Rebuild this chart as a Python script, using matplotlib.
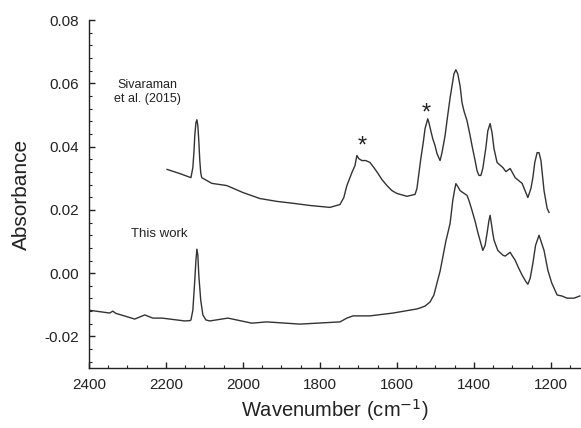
import matplotlib
matplotlib.use("Agg")
import matplotlib.pyplot as plt
from matplotlib.ticker import MultipleLocator

plt.rcParams['font.family'] = ['Liberation Sans', 'DejaVu Sans']

# "This work" spectrum (wavenumber, absorbance)
this_wn = [2400, 2346, 2338, 2330, 2281, 2255, 2234, 2210, 2151, 2138, 2135, 2130,
           2125, 2122, 2119.5, 2117, 2114.6, 2109.6, 2104, 2096, 2086, 2039, 1977,
           1938, 1852, 1748, 1730, 1714, 1670, 1610, 1548, 1540, 1527, 1514, 1504,
           1496, 1488, 1481, 1473, 1462, 1455, 1449.5, 1447, 1442, 1436, 1429, 1418,
           1413, 1405, 1397, 1390, 1382, 1377, 1371, 1366, 1361, 1358, 1356, 1351,
           1348, 1343, 1338, 1325, 1319, 1306, 1300, 1293, 1285, 1275, 1266, 1260,
           1254, 1247, 1240, 1231, 1225, 1218, 1208, 1198, 1184, 1172, 1158, 1140,
           1125]
this_abs = [-0.0117, -0.0126, -0.0120, -0.0127, -0.0145, -0.0132, -0.0142, -0.0142,
            -0.0151, -0.0150, -0.0148, -0.0117, -0.0022, 0.0041, 0.0076, 0.0057,
            -0.0006, -0.0085, -0.0132, -0.0148, -0.0151, -0.0142, -0.0158, -0.0154,
            -0.0161, -0.0154, -0.0142, -0.0135, -0.0135, -0.0126, -0.0113, -0.0110,
            -0.0104, -0.0091, -0.0069, -0.0031, 0.0006, 0.0050, 0.0101, 0.0157,
            0.0230, 0.0268, 0.0283, 0.0274, 0.0261, 0.0255, 0.0246, 0.0230, 0.0198,
            0.0164, 0.0129, 0.0094, 0.0072, 0.0088, 0.0126, 0.0167, 0.0183, 0.0167,
            0.0126, 0.0105, 0.0088, 0.0072, 0.0057, 0.0054, 0.0066, 0.0054, 0.0041,
            0.0019, -0.0006, -0.0025, -0.0035, -0.0016, 0.0031, 0.0088, 0.0120,
            0.0098, 0.0072, 0.0009, -0.0031, -0.0069, -0.0072, -0.0079, -0.0079,
            -0.0072]

# Sivaraman et al. (2015) spectrum
siv_wn = [2197, 2164, 2135, 2130, 2127, 2125, 2122, 2119.5, 2117, 2114.6, 2112,
          2109.6, 2107, 2081, 2042, 2000, 1956, 1912, 1870, 1826, 1774, 1748, 1738,
          1730, 1722, 1717, 1709, 1704, 1699, 1691, 1681, 1670, 1660, 1649, 1639,
          1626, 1613, 1600, 1574, 1553, 1548, 1543, 1538, 1532, 1527, 1520, 1517,
          1512, 1507, 1501, 1496, 1488, 1483, 1475, 1470, 1462, 1457, 1452, 1447,
          1442, 1436, 1431, 1426, 1418, 1410, 1405, 1397, 1392, 1387, 1382, 1377,
          1369, 1364, 1358, 1353, 1348, 1340, 1325, 1317, 1306, 1293, 1275, 1260,
          1252, 1247, 1242, 1236, 1231, 1226, 1218, 1210, 1205]
siv_abs = [0.0328, 0.0315, 0.0302, 0.0334, 0.0387, 0.0435, 0.0476, 0.0485, 0.0466,
           0.0419, 0.0356, 0.0318, 0.0302, 0.0284, 0.0277, 0.0255, 0.0236, 0.0227,
           0.0221, 0.0214, 0.0208, 0.0217, 0.0239, 0.0277, 0.0302, 0.0318, 0.0340,
           0.0372, 0.0362, 0.0356, 0.0356, 0.0350, 0.0334, 0.0315, 0.0296, 0.0277,
           0.0261, 0.0252, 0.0243, 0.0249, 0.0268, 0.0315, 0.0362, 0.0410, 0.0457,
           0.0488, 0.0476, 0.0450, 0.0425, 0.0403, 0.0378, 0.0356, 0.0381, 0.0435,
           0.0482, 0.0554, 0.0592, 0.0630, 0.0643, 0.0630, 0.0592, 0.0539, 0.0513,
           0.0482, 0.0435, 0.0403, 0.0356, 0.0324, 0.0309, 0.0309, 0.0331, 0.0397,
           0.0450, 0.0473, 0.0444, 0.0394, 0.0350, 0.0334, 0.0321, 0.0331, 0.0302,
           0.0284, 0.0239, 0.0268, 0.0302, 0.0350, 0.0381, 0.0381, 0.0356, 0.0261,
           0.0205, 0.0192]

x_ticks = [2400, 2200, 2000, 1800, 1600, 1400, 1200]
y_ticks = [-0.02, 0.00, 0.02, 0.04, 0.06, 0.08]
y_tick_labels = ["-0.02", "0.00", "0.02", "0.04", "0.06", "0.08"]

fig = plt.figure(figsize=(5.81, 4.28), dpi=100)
ax = fig.add_axes([0.153, 0.140, 0.847, 0.813])

line_color = '#333333'
ax.plot(this_wn, this_abs, color=line_color, lw=1.0)
ax.plot(siv_wn, siv_abs, color=line_color, lw=1.0)

ax.set_xlim(2400, 1122)
ax.set_ylim(-0.03, 0.08)
ax.set_xticks(x_ticks)
ax.set_yticks(y_ticks)
ax.set_yticklabels(y_tick_labels)
ax.xaxis.set_minor_locator(MultipleLocator(50))
ax.yaxis.set_minor_locator(MultipleLocator(0.004))

for s in ['top', 'right']:
    ax.spines[s].set_visible(False)
for s in ['left', 'bottom']:
    ax.spines[s].set_linewidth(1.0)
    ax.spines[s].set_color('#222222')

ax.tick_params(which='major', direction='in', length=4, width=1, labelsize=11,
               colors='#222222', pad=7)
ax.tick_params(which='minor', direction='in', length=2.5, width=0.8, colors='#222222')

ax.set_xlabel('Wavenumber (cm$^{-1}$)', fontsize=14.5, color='#222222', labelpad=4)
ax.set_ylabel('Absorbance', fontsize=15, color='#222222', labelpad=10)

ax.text(2247, 0.0573, 'Sivaraman\net al. (2015)', ha='center', va='center',
        fontsize=9, color='#222222', linespacing=1.15)
ax.text(2216, 0.0123, 'This work', ha='center', va='center', fontsize=9.5,
        color='#222222')
ax.text(1691, 0.0400, '*', ha='center', va='center', fontsize=17, color='#222222')
ax.text(1525, 0.0505, '*', ha='center', va='center', fontsize=17, color='#222222')

fig.savefig('out.png', dpi=100)
